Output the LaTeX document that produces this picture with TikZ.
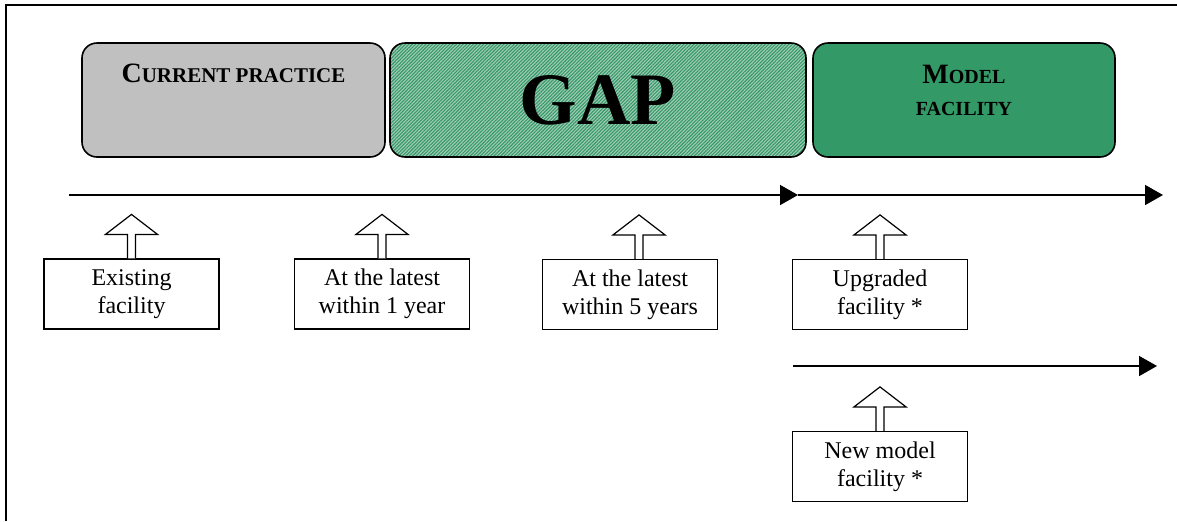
\documentclass[tikz,border=0pt]{standalone}
\usepackage{fontspec}
\setmainfont{Liberation Serif}
\usetikzlibrary{arrows.meta,patterns.meta}

\definecolor{phasegray}{HTML}{C0C0C0}
\definecolor{modelgreen}{HTML}{339966}
\definecolor{gaplight}{HTML}{A3CCB8}

\tikzset{
    phase/.style={draw, rounded corners=7.5pt, line width=0.8pt, minimum height=57pt, inner sep=0pt},
    stage/.style={draw, line width=0.6pt, minimum width=87.5pt, minimum height=35pt, inner sep=0pt,
        align=center, font=\fontsize{12}{14}\selectfont},
    timeline/.style={line width=0.8pt, -{Triangle[length=9pt,width=10pt]}},
    uparrow/.pic={
        \draw[line width=0.6pt, fill=white] (-2pt,0) -- (-2pt,12pt) -- (-13pt,12pt) -- (0,22pt)
            -- (13pt,12pt) -- (2pt,12pt) -- (2pt,0);
    }
}
\newcommand{\bigsc}[1]{{\fontsize{14}{16}\selectfont #1}}

\begin{document}
\begin{tikzpicture}[x=0.5pt, y=-0.5pt]
    \useasboundingbox (0,0) rectangle (1177,521);
    % frame
    \draw[line width=1pt] (6,521) -- (6,5) -- (1177,5);

    % phases
    \node[phase, fill=phasegray, minimum width=151.5pt] (cur) at (233.5,100) {};
    \node[phase, minimum width=208pt, preaction={fill=gaplight},
        pattern={Lines[angle=45, distance=1.2pt, line width=0.55pt]}, pattern color=modelgreen] (gap) at (598,100) {};
    \node[phase, fill=modelgreen, minimum width=151pt] (mod) at (964,100) {};
    \node[anchor=base, font=\fontsize{10.5}{12}\selectfont\bfseries] at ([yshift=-20pt]cur.north)
        {\bigsc{C}URRENT PRACTICE};
    \node[font=\fontsize{37}{40}\selectfont\bfseries] at (gap.center) {GAP};
    \node[anchor=north, align=center, font=\fontsize{10}{16}\selectfont\bfseries] at ([yshift=-8pt]mod.north)
        {\bigsc{M}ODEL\\FACILITY};

    % timelines
    \coordinate (t0) at (69,195);
    \coordinate (t1) at (798,195);
    \coordinate (t2) at (1163,195);
    \coordinate (u0) at (793,366);
    \coordinate (u1) at (1157,366);
    \draw[timeline] (t0) -- (t1);
    \draw[timeline] (t1) -- (t2);
    \draw[timeline] (u0) -- (u1);

    % stages
    \node[stage] (ex) at (131.5,294) {Existing\\facility};
    \node[stage] (y1) at (382,294) {At the latest\\within 1 year};
    \node[stage] (y5) at (630,294.5) {At the latest\\within 5 years};
    \node[stage] (up) at (880,294.5) {Upgraded\\facility *};
    \node[stage] (new) at (880,466.5) {New model\\facility *};
    \pic at (ex.north) {uparrow};
    \pic at (y1.north) {uparrow};
    \pic at ([xshift=4.5pt]y5.north) {uparrow};
    \pic at (up.north) {uparrow};
    \pic at (new.north) {uparrow};
\end{tikzpicture}
\end{document}
